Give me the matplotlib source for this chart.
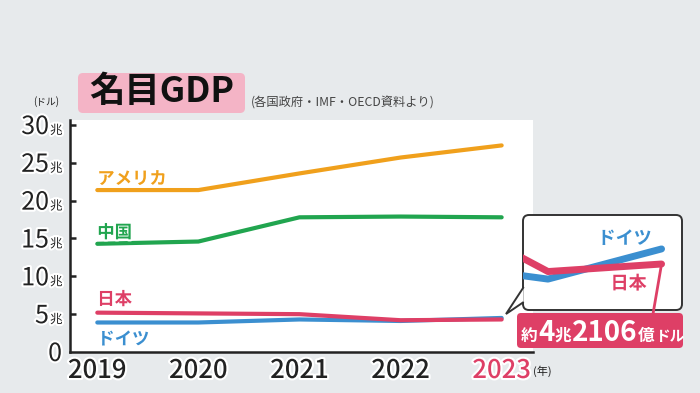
import matplotlib
matplotlib.use('Agg')
import matplotlib.pyplot as plt
import matplotlib.patheffects as pe
from matplotlib.patches import FancyBboxPatch, Polygon, ConnectionPatch
from matplotlib.text import Annotation

plt.rcParams['font.family'] = ['Noto Sans CJK JP', 'DejaVu Sans']

# ---------------- data ----------------
years = [2019, 2020, 2021, 2022, 2023]
usa = [21.4, 21.4, 23.6, 25.7, 27.3]
china = [14.3, 14.6, 17.8, 17.9, 17.8]
japan = [5.2, 5.1, 5.0, 4.2, 4.3]
germany = [3.9, 3.9, 4.3, 4.1, 4.5]
series_names = ['アメリカ', '中国', '日本', 'ドイツ']
yticks = [0, 5, 10, 15, 20, 25, 30]
ytick_unit = '兆'
title = '名目GDP'
source = '(各国政府・IMF・OECD資料より)'
y_unit = '(ドル)'
x_unit = '(年)'
callout_parts = ['約', '4', '兆', '2106', '億', 'ドル']

# ---------------- style ----------------
BG = '#e7eaec'
C_US = '#f0a01c'
C_CN = '#21a54f'
C_JP = '#de3f66'
C_DE = '#3b8fd0'
DARK = '#222222'
W, H = 700, 393
halo = [pe.withStroke(linewidth=3, foreground='white')]

fig = plt.figure(figsize=(7, 3.93), dpi=100, facecolor=BG)
T = fig.dpi_scale_trans


def px(x, y):
    """top-left pixel coords -> inches for dpi_scale_trans"""
    return x / 100.0, (H - y) / 100.0


# main axes
ax = fig.add_axes([70 / W, 1 - 352 / H, (533 - 70) / W, (352 - 120) / H])
ax.set_facecolor('white')
ax.set_xlim(2018.73, 2023.31)
ax.set_ylim(0, 30.66)
for s in ['top', 'right']:
    ax.spines[s].set_visible(False)
for s in ['left', 'bottom']:
    ax.spines[s].set_linewidth(1.8)
    ax.spines[s].set_color(DARK)
ax.set_yticks(yticks[1:])
ax.set_xticks([])
ax.tick_params(axis='y', direction='in', length=4, width=1.8, color=DARK,
               labelleft=False)

series = [(usa, C_US, 6), (china, C_CN, 6), (japan, C_JP, 8), (germany, C_DE, -22)]
order = [0, 1, 3, 2]
for i in order:
    vals, c, dy = series[i]
    ax.plot(years, vals, color=c, lw=3, solid_capstyle='round', zorder=3)
    ax.annotate(series_names[i], xy=(years[0], vals[0]), xytext=(0, dy),
                textcoords='offset pixels', ha='left', va='baseline',
                color=c, fontsize=12.5, fontweight='bold', path_effects=halo,
                zorder=4)

# y tick labels
ytr = ax.get_yaxis_transform()
for v in yticks:
    if v == 0:
        ax.annotate(str(v), xy=(0, v), xycoords=ytr, xytext=(-8, -9),
                    textcoords='offset pixels', ha='right', va='baseline',
                    fontsize=18, color=DARK, path_effects=halo,
                    annotation_clip=False)
    else:
        ax.annotate(str(v), xy=(0, v), xycoords=ytr, xytext=(-21, -9),
                    textcoords='offset pixels', ha='right', va='baseline',
                    fontsize=18, color=DARK, path_effects=halo,
                    annotation_clip=False)
        ax.annotate(ytick_unit, xy=(0, v), xycoords=ytr, xytext=(-20, -9),
                    textcoords='offset pixels', ha='left', va='baseline',
                    fontsize=9, color=DARK, path_effects=halo,
                    annotation_clip=False)

# x tick labels
xtr = ax.get_xaxis_transform()
for yr in years:
    col = C_JP if yr == years[-1] else DARK
    ax.annotate(str(yr), xy=(yr, 0), xycoords=xtr, xytext=(0, -26),
                textcoords='offset pixels', ha='center', va='baseline',
                fontsize=18.5, color=col, fontweight='medium',
                path_effects=halo, annotation_clip=False)
ax.annotate(x_unit, xy=(years[-1], 0), xycoords=xtr, xytext=(31, -23),
            textcoords='offset pixels', ha='left', va='baseline',
            fontsize=8, color=DARK, annotation_clip=False)

# title
tb = FancyBboxPatch(px(78, 113), 167 / 100, 40 / 100,
                    boxstyle='round,pad=0,rounding_size=0.05',
                    transform=T, fc='#f4b4c6', ec='none', zorder=2)
fig.add_artist(tb)
fig.text(*px(161.5, 102), title, transform=T, ha='center', va='baseline',
         fontsize=25.5, fontweight='bold', color='#111111', zorder=3)
fig.text(*px(251, 107), source, transform=T, ha='left', va='baseline',
         fontsize=8.8, color='#444444', zorder=3)
fig.text(*px(33, 105), y_unit, transform=T, ha='left', va='baseline',
         fontsize=7, color=DARK, zorder=3)

# callout box
cb = FancyBboxPatch(px(523, 310), 159 / 100, 95 / 100,
                    boxstyle='round,pad=0,rounding_size=0.06',
                    transform=T, fc='white', ec='#333333', lw=1.4, zorder=5)
fig.add_artist(cb)
tail = Polygon([px(523.7, 287), px(506, 314), px(523.7, 302)], closed=False,
               transform=T, fc='white', ec='#333333', lw=1.4, zorder=5.5)
fig.add_artist(tail)

axi = fig.add_axes([523 / W, 1 - 310 / H, (682 - 523) / W, (310 - 215) / H],
                   zorder=6)
axi.set_facecolor('none')
axi.axis('off')
axi.set_xlim(2021.78, 2023.18)
axi.set_ylim(3.69, 4.95)
axi.plot(years, germany, color=C_DE, lw=5, solid_capstyle='round')
axi.plot(years, japan, color=C_JP, lw=5, solid_capstyle='round')
axi.annotate(series_names[3], xy=(years[-1], germany[-1]), xytext=(-10, 5),
             textcoords='offset pixels', ha='right', va='baseline',
             color=C_DE, fontsize=13, fontweight='bold', path_effects=halo)
axi.annotate(series_names[2], xy=(years[-1], japan[-1]), xytext=(-15, -25),
             textcoords='offset pixels', ha='right', va='baseline',
             color=C_JP, fontsize=13, fontweight='bold', path_effects=halo)

# red value box
rb = FancyBboxPatch(px(517, 348), 166 / 100, 35 / 100,
                    boxstyle='round,pad=0,rounding_size=0.04',
                    transform=T, fc=C_JP, ec='none', zorder=7)
fig.add_artist(rb)
con = ConnectionPatch(xyA=(years[-1], japan[-1]), coordsA=axi.transData,
                      xyB=px(653, 314), coordsB=T, color=C_JP, lw=2,
                      zorder=6.5)
fig.add_artist(con)

sizes = [12, 20, 12, 20, 12, 10.5]
base_y = px(0, 341)[1]
prev = fig.text(*px(521, 341), callout_parts[0], transform=T, ha='left',
                va='baseline', fontsize=sizes[0], fontweight='bold',
                color='white', zorder=8)
for part, fs in zip(callout_parts[1:], sizes[1:]):
    prev = fig.add_artist(Annotation(
        part, xy=(1, base_y), xycoords=(prev, T), xytext=(0.5, 0),
        textcoords='offset pixels', ha='left', va='baseline', fontsize=fs,
        fontweight='bold', color='white', zorder=8))

fig.savefig('out.png', dpi=100, facecolor=BG)
